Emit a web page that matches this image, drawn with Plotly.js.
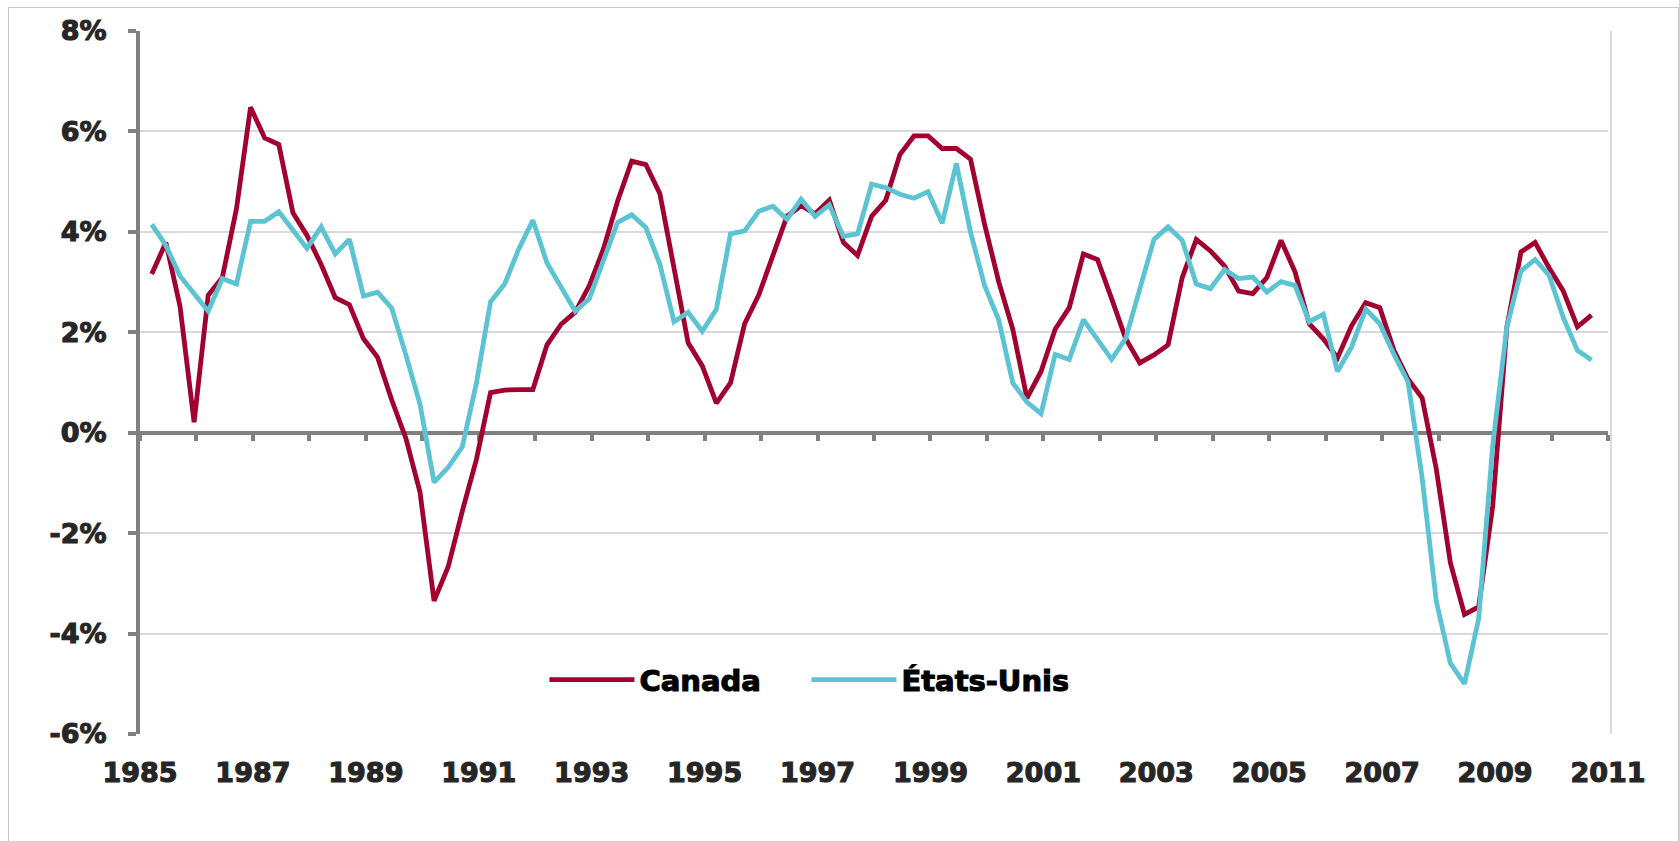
<!DOCTYPE html>
<html>
<head>
<meta charset="utf-8">
<script src="https://cdn.plot.ly/plotly-3.0.1.min.js"></script>
<style>
html, body { margin: 0; padding: 0; background: #ffffff; }
#chart { position: absolute; left: 0; top: 0; width: 1679px; height: 841px; }
#frame { position: absolute; left: 8px; top: 7px; width: 1671px; height: 850px;
         border: 1px solid #c6c6c6; box-sizing: border-box; pointer-events: none; }
/* heavier, Arial-Black-like look for the labels */
#chart .xtick text, #chart .ytick text { stroke: #262626; stroke-width: 1.1px; paint-order: stroke; }
#chart .legendtext { stroke: #000000; stroke-width: 1.1px; paint-order: stroke; }
</style>
</head>
<body>
<div id="chart"></div>
<div id="frame"></div>
<script>
// ---- Data (year-over-year growth, %, quarterly from 1985 T1 to 2010 T3) ----
const startYear = 1985;

const canada = [
  3.16, 3.79, 2.52, 0.21,
  2.74, 3.09, 4.46, 6.48,
  5.87, 5.74, 4.38, 3.93,
  3.35, 2.69, 2.55, 1.87,
  1.50, 0.65, -0.11, -1.18,
  -3.35, -2.67, -1.56, -0.53,
  0.80, 0.85, 0.86, 0.86,
  1.75, 2.16, 2.40, 2.93,
  3.66, 4.61, 5.41, 5.34,
  4.76, 3.24, 1.79, 1.33,
  0.59, 0.99, 2.17, 2.74,
  3.54, 4.31, 4.52, 4.36,
  4.63, 3.79, 3.53, 4.31,
  4.63, 5.54, 5.91, 5.91,
  5.66, 5.66, 5.45, 4.15,
  3.01, 2.06, 0.69, 1.22,
  2.06, 2.49, 3.56, 3.45,
  2.67, 1.87, 1.39, 1.55,
  1.75, 3.09, 3.85, 3.62,
  3.32, 2.82, 2.77, 3.09,
  3.83, 3.20, 2.17, 1.87,
  1.49, 2.13, 2.59, 2.49,
  1.64, 1.07, 0.69, -0.72,
  -2.59, -3.62, -3.47, -1.46,
  2.10, 3.60, 3.79, 3.28,
  2.82, 2.11, 2.34
];

const etatsUnis = [
  4.15, 3.73, 3.12, 2.78,
  2.42, 3.07, 2.96, 4.21,
  4.21, 4.40, 4.04, 3.67,
  4.10, 3.56, 3.85, 2.72,
  2.80, 2.48, 1.55, 0.57,
  -0.99, -0.69, -0.28, 0.99,
  2.61, 2.96, 3.66, 4.23,
  3.38, 2.90, 2.42, 2.67,
  3.43, 4.19, 4.34, 4.09,
  3.35, 2.21, 2.40, 2.02,
  2.46, 3.96, 4.02, 4.41,
  4.51, 4.25, 4.65, 4.31,
  4.54, 3.91, 3.96, 4.95,
  4.88, 4.75, 4.67, 4.80,
  4.17, 5.36, 4.00, 2.93,
  2.25, 0.99, 0.61, 0.38,
  1.56, 1.46, 2.25, 1.87,
  1.46, 1.88, 2.90, 3.85,
  4.10, 3.83, 2.96, 2.87,
  3.25, 3.07, 3.10, 2.80,
  3.01, 2.93, 2.21, 2.36,
  1.22, 1.71, 2.46, 2.17,
  1.56, 1.01, -0.90, -3.35,
  -4.59, -5.00, -3.71, -0.25,
  2.10, 3.22, 3.45, 3.13,
  2.29, 1.64, 1.45
];

const seriesNames = ['Canada', 'États-Unis'];

const xTickVals = [1985, 1987, 1989, 1991, 1993, 1995, 1997, 1999, 2001, 2003, 2005, 2007, 2009, 2011];
const xTickText = ['1985', '1987', '1989', '1991', '1993', '1995', '1997', '1999', '2001', '2003', '2005', '2007', '2009', '2011'];
const yTickVals = [-6, -4, -2, 0, 2, 4, 6, 8];
const yTickText = ['-6%', '-4%', '-2%', '0%', '2%', '4%', '6%', '8%'];

// quarter categories ("1985T1" ...) and their position on the time axis (last month of the quarter)
const quarters = canada.map((_, k) => (startYear + Math.floor(k / 4)) + 'T' + (k % 4 + 1));
const xPos = quarters.map(s => {
  const parts = s.split('T');
  return Number(parts[0]) + (3 * Number(parts[1]) - 0.5) / 12;
});

// ---- Styles ----
const RED = '#A2002F';
const CYAN = '#5CC3D3';
const AXIS = '#808080';
const GRID = '#D9D9D9';
const tickFont = { family: 'DejaVu Sans', size: 27, color: '#262626', weight: 700 };

const traces = [
  { type: 'scatter', mode: 'lines', name: seriesNames[0], x: xPos, y: canada, text: quarters,
    line: { color: RED, width: 4.8 }, hoverinfo: 'skip' },
  { type: 'scatter', mode: 'lines', name: seriesNames[1], x: xPos, y: etatsUnis, text: quarters,
    line: { color: CYAN, width: 4.8 }, hoverinfo: 'skip' },
  // carrier for the horizontal axis drawn through 0 %
  { type: 'scatter', mode: 'lines', x: [], y: [], xaxis: 'x2', yaxis: 'y', showlegend: false, hoverinfo: 'skip' }
];

const yMin = -6, yMax = 8;

const layout = {
  width: 1679, height: 841,
  margin: { l: 140, r: 71, t: 31, b: 107, pad: 0 },
  paper_bgcolor: 'rgba(0,0,0,0)',
  plot_bgcolor: 'rgba(0,0,0,0)',
  showlegend: true,
  hovermode: false,
  xaxis: {
    range: [1985, 2011], showgrid: false, zeroline: false, showline: false,
    tickmode: 'array', tickvals: xTickVals, ticktext: xTickText,
    ticks: '', tickfont: tickFont, ticklabelstandoff: 20
  },
  xaxis2: {
    overlaying: 'x', anchor: 'free', position: (0 - yMin) / (yMax - yMin), side: 'bottom',
    range: [1985, 2011], showgrid: false, zeroline: false,
    showline: true, linecolor: AXIS, linewidth: 4,
    tickmode: 'linear', tick0: 1985, dtick: 1,
    ticks: 'outside', ticklen: 6, tickwidth: 4, tickcolor: AXIS,
    showticklabels: false, layer: 'below traces'
  },
  yaxis: {
    range: [yMin, yMax], tickmode: 'array', tickvals: yTickVals, ticktext: yTickText,
    showgrid: true, gridcolor: GRID, gridwidth: 2, zeroline: false,
    showline: true, linecolor: AXIS, linewidth: 4,
    ticks: 'outside', ticklen: 8, tickwidth: 4, tickcolor: AXIS,
    tickfont: tickFont, ticklabelstandoff: 16, layer: 'below traces'
  },
  shapes: [
    { type: 'line', xref: 'paper', yref: 'paper', x0: 1.002, x1: 1.002, y0: 0, y1: 1,
      line: { color: GRID, width: 2 }, layer: 'below' }
  ],
  legend: {
    orientation: 'h', x: 0.2755, xanchor: 'left', y: 0.077, yanchor: 'middle',
    font: { family: 'DejaVu Sans', size: 29, color: '#000000', weight: 700 },
    itemwidth: 85, entrywidth: 162, entrywidthmode: 'pixels',
    bgcolor: 'rgba(0,0,0,0)', borderwidth: 0, traceorder: 'normal'
  }
};

Plotly.newPlot('chart', traces, layout, { displayModeBar: false, staticPlot: true });
</script>
</body>
</html>
